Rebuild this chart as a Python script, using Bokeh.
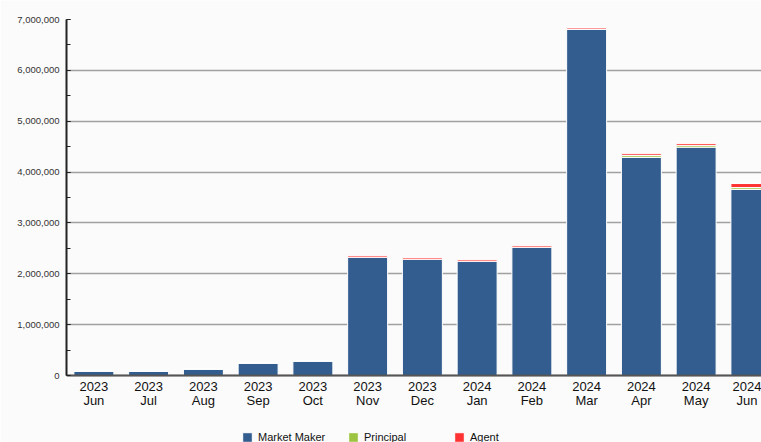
from bokeh.plotting import figure
from bokeh.models import (Range1d, FixedTicker, SingleIntervalTicker, NumeralTickFormatter,
                          ColumnDataSource, Legend, LegendItem)
from bokeh.embed import file_html
from bokeh.resources import INLINE

years = ["2023", "2023", "2023", "2023", "2023", "2023", "2023", "2024", "2024", "2024", "2024", "2024", "2024"]
months = ["Jun", "Jul", "Aug", "Sep", "Oct", "Nov", "Dec", "Jan", "Feb", "Mar", "Apr", "May", "Jun"]
market_maker = [88000, 86000, 128000, 246000, 285000, 2324000, 2285000, 2245000, 2520000,
                6810000, 4290000, 4490000, 3660000]
principal = [0, 0, 0, 0, 0, 3000, 3000, 3000, 3000, 3000, 35000, 35000, 35000]
agent = [0, 0, 0, 0, 0, 30000, 30000, 30000, 30000, 30000, 35000, 35000, 80000]

series = ["Market Maker", "Principal", "Agent"]
colors = ["#335d8e", "#9cc440", "#ff3333"]

x = list(range(len(months)))
source = ColumnDataSource(dict(x=x, mm=market_maker, pr=principal, ag=agent))

FONT = "Liberation Sans"
BG = "#fbfbfb"
Y_MAX = 7000000

# the frame runs down to the bottom of the picture; the x axis sits at value 0
p = figure(width=761, height=442, output_backend="svg", toolbar_location=None,
           x_range=Range1d(-0.5, 12.194), y_range=Range1d(-1317000, Y_MAX),
           min_border_left=66, min_border_right=0, min_border_top=19, min_border_bottom=0,
           background_fill_color=BG, border_fill_color=BG)
p.outline_line_color = None

r = p.vbar_stack(["mm", "pr", "ag"], x="x", width=0.73, source=source,
                 color=colors, line_color="white", line_width=1)

# x axis
p.xaxis.fixed_location = 0
p.xaxis.ticker = FixedTicker(ticks=x)
p.xaxis.major_label_overrides = {i: f"{years[i]}\n{months[i]}" for i in x}
p.xaxis.major_tick_line_color = None
p.xaxis.minor_tick_line_color = None
p.xaxis.axis_line_color = "#555555"
p.xaxis.axis_line_width = 2
p.xaxis.major_label_text_font = FONT
p.xaxis.major_label_text_font_size = "13px"
p.xaxis.major_label_text_line_height = 0.95
p.xaxis.major_label_text_color = "#111111"
p.xaxis.major_label_standoff = -3

# y axis
p.yaxis.bounds = (0, Y_MAX)
p.yaxis.ticker = SingleIntervalTicker(interval=1000000, num_minor_ticks=2)
p.yaxis.formatter = NumeralTickFormatter(format="0,0")
p.yaxis.major_tick_in = 4
p.yaxis.major_tick_out = 0
p.yaxis.minor_tick_in = 4
p.yaxis.minor_tick_out = 0
p.yaxis.major_tick_line_color = "#222222"
p.yaxis.minor_tick_line_color = "#222222"
p.yaxis.axis_line_color = "#222222"
p.yaxis.axis_line_width = 2
p.yaxis.major_label_text_font = FONT
p.yaxis.major_label_text_font_size = "9.5px"
p.yaxis.major_label_text_color = "#333333"
p.yaxis.major_label_standoff = 7

p.xgrid.grid_line_color = None
p.ygrid.bounds = (0, Y_MAX)
p.ygrid.grid_line_color = "#a0a0a0"
p.ygrid.grid_line_width = 1.5

legend = Legend(items=[LegendItem(label=s, renderers=[rr]) for s, rr in zip(series, r)],
                location=(175, -1), orientation="horizontal",
                glyph_width=12, glyph_height=12, label_standoff=5, label_width=89,
                label_height=12,
                spacing=0, padding=0, margin=0, border_line_color=None,
                background_fill_alpha=0, label_text_font=FONT,
                label_text_font_size="11px", label_text_color="#111111")
p.add_layout(legend, "center")

open("out.html", "w").write(file_html(p, INLINE))
